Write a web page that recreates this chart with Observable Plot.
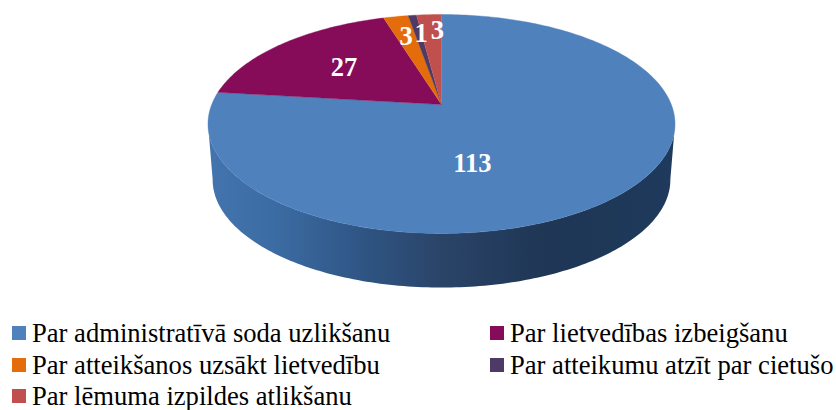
<!DOCTYPE html>
<html>
<head>
<meta charset="utf-8">
<script src="https://cdn.jsdelivr.net/npm/d3@7"></script>
<script src="https://cdn.jsdelivr.net/npm/@observablehq/plot@0.6"></script>
<style>
html,body{margin:0;padding:0;background:#fff;}
#wrap{position:relative;width:836px;height:410px;overflow:hidden;}
#chart{position:absolute;left:0;top:0;}
.lg{position:absolute;font-family:"Liberation Serif",serif;font-size:26.6px;line-height:30px;color:#000;white-space:nowrap;}
.sw{position:absolute;width:14px;height:14px;}
</style>
</head>
<body>
<div id="wrap"><div id="chart"></div></div>
<script>
const categories = [
  "Par administratīvā soda uzlikšanu",
  "Par lietvedības izbeigšanu",
  "Par atteikšanos uzsākt lietvedību",
  "Par atteikumu atzīt par cietušo",
  "Par lēmuma izpildes atlikšanu"
];
const values = [113, 27, 3, 1, 3];
const colors = ["#4f81bd", "#860b58", "#e46c0a", "#4d3a66", "#c0504d"];

// Tilted-disc projection of the pie
const k = 0.178;
function project(deg, r = 1) {
  const t = deg * Math.PI / 180;
  const X = r * Math.sin(t), Y = r * Math.cos(t), d = 1 + k * Y;
  return {u: X / d, v: Y / d};
}
const total = d3.sum(values);
let acc = 0;
const slices = values.map((v, i) => {
  const a0 = acc; acc += v;
  return {name: categories[i], value: v, a0: a0 / total * 360, a1: acc / total * 360};
});

const topPts = slices.flatMap(s => {
  const out = [{slice: s.name, ...project(0, 0)}];
  const n = Math.max(2, Math.ceil(s.a1 - s.a0));
  for (let j = 0; j <= n; j++) out.push({slice: s.name, ...project(s.a0 + (s.a1 - s.a0) * j / n)});
  return out;
});

// Side wall: front rim of the top, then the lower rim back
const front = d3.range(100, 261, 1).map(a => project(a));
const wallPts = [
  ...front,
  ...front.slice().reverse().map(p => ({u: p.u * 0.98, v: (p.v + 0.184) * 0.985 - 0.71}))
];

const nudges = [[-87, -2], [17, 7], [-2, -4], [1, -6], [5, -8]];
const labels = slices.map((s, i) => ({text: String(s.value), nudge: nudges[i], ...project((s.a0 + s.a1) / 2, 0.7)}));

const defs = () => {
  const ns = "http://www.w3.org/2000/svg";
  const d = document.createElementNS(ns, "defs");
  const g = document.createElementNS(ns, "linearGradient");
  g.setAttribute("id", "wall");
  g.setAttribute("x1", "0"); g.setAttribute("x2", "1"); g.setAttribute("y1", "0"); g.setAttribute("y2", "0");
  [[0, "#4474ad"], [0.14, "#3c6ca4"], [0.33, "#2f5584"], [0.5, "#2a4468"], [0.72, "#1f3655"], [1, "#1e3a5c"]].forEach(([o, c]) => {
    const st = document.createElementNS(ns, "stop");
    st.setAttribute("offset", o); st.setAttribute("stop-color", c);
    g.appendChild(st);
  });
  d.appendChild(g);
  return d;
};

const plot = Plot.plot({
  width: 836,
  height: 300,
  margin: 0,
  style: {background: "transparent"},
  x: {domain: [-1, 1], range: [211.2, 670.8], axis: null},
  y: {domain: [-1, 1], range: [210, -2], axis: null},
  color: {domain: categories, range: colors},
  marks: [
    defs,
    Plot.line(wallPts, {x: "u", y: "v", fill: "url(#wall)", stroke: "none"}),
    Plot.line(topPts, {x: "u", y: "v", z: "slice", fill: "slice", stroke: "slice", strokeWidth: 0.4}),
    ...labels.map(l => Plot.text([l], {
      x: "u", y: "v", text: "text", dx: l.nudge[0], dy: l.nudge[1],
      fill: "white", fontWeight: "bold", fontSize: 26.5, fontFamily: "Liberation Serif, serif"
    }))
  ]
});
const wrap = document.getElementById("wrap");
document.getElementById("chart").appendChild(plot);

// Legend below the plot
const rowY = [333, 365, 396];
const spots = [[0, 0], [1, 0], [0, 1], [1, 1], [0, 2]];
const colX = [[12, 32], [490, 510]];
categories.forEach((c, i) => {
  const [col, row] = spots[i];
  const sw = document.createElement("div");
  sw.className = "sw";
  sw.style.left = colX[col][0] + "px";
  sw.style.top = (rowY[row] - 7) + "px";
  sw.style.background = colors[i];
  wrap.appendChild(sw);
  const t = document.createElement("div");
  t.className = "lg";
  t.style.left = colX[col][1] + "px";
  t.style.top = (rowY[row] - 15) + "px";
  t.textContent = c;
  wrap.appendChild(t);
});
</script>
</body>
</html>
